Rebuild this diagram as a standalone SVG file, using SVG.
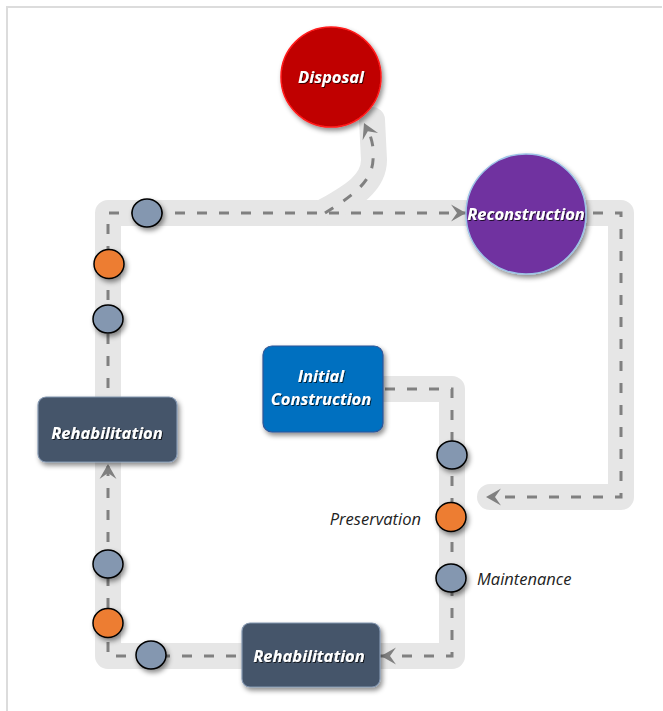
<svg xmlns="http://www.w3.org/2000/svg" width="663" height="711" viewBox="0 0 663 711">
<defs>
<filter id="sh" x="-30%" y="-30%" width="160%" height="160%">
<feDropShadow dx="2" dy="3" stdDeviation="2.5" flood-color="#000" flood-opacity="0.45"/>
</filter>
<filter id="tsh" x="-10%" y="-30%" width="120%" height="160%">
<feDropShadow dx="1" dy="1" stdDeviation="0.6" flood-color="#000" flood-opacity="0.7"/>
</filter>
<path id="stealth" d="M0,0 L15,-8.5 L9,0 L15,8.5 Z" fill="#808080"/>
<style>
.band{fill:none;stroke:#e6e6e6;stroke-width:26;stroke-linejoin:round;stroke-linecap:round}
.dash{fill:none;stroke:#808080;stroke-width:3;stroke-dasharray:10 12}
.t{font-family:"Open Sans","Liberation Sans",sans-serif;font-style:italic;font-weight:bold;font-size:16.5px;fill:#fff;text-anchor:middle}
.lbl{font-family:"Open Sans","Liberation Sans",sans-serif;font-style:italic;font-size:16.5px;fill:#222}
.mb{fill:#8497b0;stroke:#000;stroke-width:1.5}
.mo{fill:#ed7d31;stroke:#000;stroke-width:1.5}
</style>
</defs>
<rect width="663" height="711" fill="#fff"/>
<path d="M7,711 V7 H662" fill="none" stroke="#dcdcdc" stroke-width="2"/>
<g id="connectors">
<path class="band" d="M383,389 H452 V656 H108 V213 H621 V497 H490"/>
<path class="band" d="M322,213 C348,198 374,185 374,160 L372,120"/>
<path class="dash" d="M385,389 H452 V656 H108 V213 H621 V497 H496"/>
<path class="dash" d="M325,213 C345,200 372,185 373,160 C374,148 372,141 370,135"/>
<use href="#stealth" transform="translate(486,497)"/>
<use href="#stealth" transform="translate(466,213) rotate(180)"/>
<use href="#stealth" transform="translate(108,464) rotate(90)"/>
<use href="#stealth" transform="translate(381,656)"/>
<use href="#stealth" transform="translate(364,123) rotate(65)"/>
</g>
<g id="disposal">
<circle cx="331" cy="77" r="50" fill="#c00000" stroke="#ff1a1a" stroke-width="1.5" filter="url(#sh)"/>
<text class="t" x="331" y="83" font-size="17" filter="url(#tsh)">Disposal</text>
</g>
<g id="reconstruction">
<circle cx="526" cy="214" r="60" fill="#7030a0" stroke="#9dc3e6" stroke-width="1.5" filter="url(#sh)"/>
<text class="t" x="526" y="220" filter="url(#tsh)">Reconstruction</text>
</g>
<g id="initial-construction">
<rect x="263" y="346" width="120" height="86" rx="9" fill="#0070c0" stroke="#2f5597" stroke-width="1.2" filter="url(#sh)"/>
<text class="t" x="321" y="382" filter="url(#tsh)">Initial</text>
<text class="t" x="321" y="405" filter="url(#tsh)">Construction</text>
</g>
<g id="rehabilitation-left">
<rect x="38" y="397" width="139" height="65" rx="8" fill="#44546a" stroke="#8497b0" stroke-width="1.2" filter="url(#sh)"/>
<text class="t" x="107" y="439" filter="url(#tsh)">Rehabilitation</text>
</g>
<g id="rehabilitation-bottom">
<rect x="242" y="623" width="138" height="64" rx="8" fill="#44546a" stroke="#8497b0" stroke-width="1.2" filter="url(#sh)"/>
<text class="t" x="309" y="662" filter="url(#tsh)">Rehabilitation</text>
</g>
<g id="markers">
<ellipse class="mb" cx="147" cy="213" rx="15" ry="14" filter="url(#sh)"/>
<ellipse class="mo" cx="109" cy="264" rx="15" ry="14.5" filter="url(#sh)"/>
<ellipse class="mb" cx="108" cy="319" rx="15" ry="14" filter="url(#sh)"/>
<ellipse class="mb" cx="108" cy="564" rx="15" ry="14" filter="url(#sh)"/>
<ellipse class="mo" cx="108" cy="623" rx="15" ry="14.5" filter="url(#sh)"/>
<ellipse class="mb" cx="151" cy="655" rx="15" ry="14" filter="url(#sh)"/>
<ellipse class="mb" cx="452" cy="455" rx="15" ry="14" filter="url(#sh)"/>
<ellipse class="mo" cx="451" cy="517" rx="15" ry="14.5" filter="url(#sh)"/>
<ellipse class="mb" cx="451" cy="578" rx="15" ry="14" filter="url(#sh)"/>
</g>
<g id="labels">
<text class="lbl" x="421" y="525" text-anchor="end">Preservation</text>
<text class="lbl" x="477" y="585">Maintenance</text>
</g>
</svg>
